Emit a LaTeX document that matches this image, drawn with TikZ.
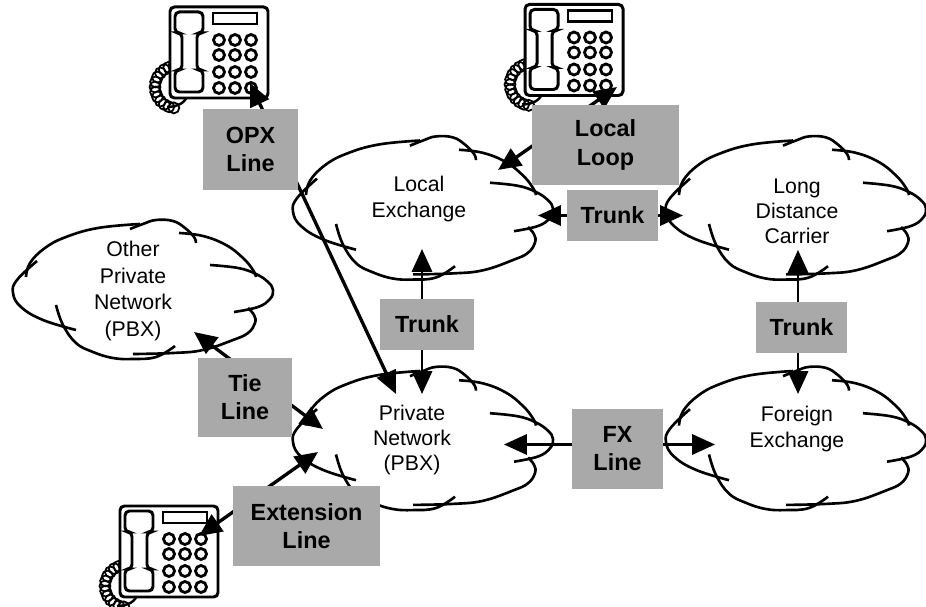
\documentclass[tikz,border=0pt]{standalone}
\usepackage{fontspec}
\setmainfont{Liberation Sans}
\usetikzlibrary{arrows.meta}
\definecolor{boxgray}{HTML}{A9A9A9}
\tikzset{
    netlabel/.style = {align=center, inner sep=0pt, font=\fontsize{12.1}{14.3}\selectfont},
    linebox/.style = {fill=boxgray, align=center, inner sep=0pt, font=\fontsize{13.3}{16}\selectfont\bfseries},
    heavyline/.style = {line width=1.9pt, {Triangle[length=13pt,width=11.5pt]}-{Triangle[length=13pt,width=11.5pt]}},
    lightline/.style = {line width=1.4pt, {Triangle[length=13pt,width=11.5pt]}-{Triangle[length=13pt,width=11.5pt]}},
    netcloud/.pic = {
        \draw[line width=1.5pt] plot[smooth,tension=0.7] coordinates {(-106,-29) (-126,-10) (-130,3) (-122,17) (-100,30) (-67,40)};
        \draw[line width=1.5pt] plot[smooth,tension=0.7] coordinates {(-117,-13) (-113,-27) (-98,-42) (-77,-53) (-45,-62) (-3,-66)};
        \draw[line width=1.5pt] plot[smooth,tension=0.7] coordinates {(-13,-61) (0,-66) (13,-70) (30,-69) (42,-62) (51,-53) (53,-47)};
        \draw[line width=1.5pt] plot[smooth,tension=0.7] coordinates {(36,-57) (60,-54) (83,-45) (100,-32) (110,-20) (113,-13)};
        \draw[line width=1.5pt] plot[smooth,tension=0.7] coordinates {(67,-25) (95,-22) (113,-16) (125,-8) (130,0) (127,9) (115,17) (91,22)};
        \draw[line width=1.5pt] plot[smooth,tension=0.7] coordinates {(105,18) (111,25) (112,33) (105,43) (90,50) (60,60) (30,63) (-10,64)};
        \draw[line width=1.5pt] plot[smooth,tension=0.7] coordinates {(32,56) (13,67) (-10,69) (-30,68) (-50,62) (-67,53) (-80,35) (-87,15)};
    },
    deskphone/.pic = {
        \foreach \coil in {-84,-70,...,84}
            \draw[line width=1pt] ({6-21*cos(\coil)},{80+21*sin(\coil)}) circle (5.5);
        \draw[line width=1.4pt] (-3,100) .. controls (8,100) and (17,95) .. (17,87);
        \draw[line width=1.7pt, rounded corners=2.5pt, fill=white] (0,0) rectangle (98,91);
        \draw[line width=1.6pt] (43,6) rectangle (87,17);
        \draw[line width=1.7pt, rounded corners=2.5pt] (5,5) -- (33,5) -- (33,26) -- (27,26) -- (27,63) -- (33,63) -- (33,85) -- (5,85) -- (5,63) -- (12,63) -- (12,26) -- (5,26) -- cycle;
        \foreach \keyx in {49,65,81}
            \foreach \keyy in {33,48,65,81}
                \draw[line width=1.6pt] (\keyx,\keyy) ellipse (5.5 and 5.5);
    }
}
\begin{document}
\begin{tikzpicture}[x=0.02cm,y=-0.02cm]
    \useasboundingbox (0,0) rectangle (926,607);
    % clouds
    \pic[yscale=1.0] at (143,290) {netcloud};
    \pic[yscale=1.03] at (423,208.5) {netcloud};
    \pic[yscale=1.03] at (796,208.5) {netcloud};
    \pic[yscale=1.03] at (423,439) {netcloud};
    \pic[yscale=1.03] at (796,439) {netcloud};
    \node[netlabel, font=\fontsize{12.1}{15}\selectfont] (other) at (133,291) {Other\\Private\\Network\\(PBX)};
    \node[netlabel] (local) at (419,199) {Local\\Exchange};
    \node[netlabel] (carrier) at (797,211) {Long\\Distance\\Carrier};
    \node[netlabel] (private) at (412,440) {Private\\Network\\(PBX)};
    \node[netlabel] (foreign) at (797,429) {Foreign\\Exchange};
    % phones
    \pic at (170,7) {deskphone};
    \pic at (525,4.5) {deskphone};
    \pic at (120,506) {deskphone};
    % line ends
    \coordinate (opx phone) at (250,83);
    \coordinate (opx private) at (396,394);
    \coordinate (loop phone) at (617,87);
    \coordinate (loop local) at (498,170);
    \coordinate (trunk local) at (538,215.5);
    \coordinate (trunk carrier) at (683,215.5);
    \coordinate (trunk up) at (422,249);
    \coordinate (trunk down) at (422,394);
    \coordinate (carrier up) at (798,250);
    \coordinate (foreign down) at (798,394);
    \coordinate (fx private) at (504,444.5);
    \coordinate (fx foreign) at (715,444.5);
    \coordinate (tie other) at (194,332);
    \coordinate (tie private) at (323,429);
    \coordinate (ext private) at (318,452);
    \coordinate (ext phone) at (199,536);
    % lines
    \draw[heavyline] (opx phone) -- (opx private);
    \draw[heavyline] (loop phone) -- (loop local);
    \draw[lightline] (trunk local) -- (trunk carrier);
    \draw[lightline] (trunk up) -- (trunk down);
    \draw[lightline] (carrier up) -- (foreign down);
    \draw[lightline] (fx private) -- (fx foreign);
    \draw[heavyline] (tie other) -- (tie private);
    \draw[heavyline] (ext private) -- (ext phone);
    % boxes
    \node[linebox, minimum width=1.9cm, minimum height=1.62cm] (opx) at (250.5,149.5) {OPX\\Line};
    \node[linebox, minimum width=2.94cm, minimum height=1.6cm] (loop) at (605.5,145) {Local\\Loop};
    \node[linebox, minimum width=1.82cm, minimum height=1.02cm] (trunk a) at (612.5,215.5) {Trunk};
    \node[linebox, minimum width=1.88cm, minimum height=1.02cm] (trunk b) at (427,324.5) {Trunk};
    \node[linebox, minimum width=1.82cm, minimum height=1.02cm] (trunk c) at (801.5,327.5) {Trunk};
    \node[linebox, minimum width=1.88cm, minimum height=1.58cm] (tie) at (245,397.5) {Tie\\Line};
    \node[linebox, minimum width=1.82cm, minimum height=1.6cm] (fx) at (617.5,449) {FX\\Line};
    \node[linebox, minimum width=2.94cm, minimum height=1.6cm] (extension) at (306.5,526) {Extension\\Line};
\end{tikzpicture}
\end{document}
